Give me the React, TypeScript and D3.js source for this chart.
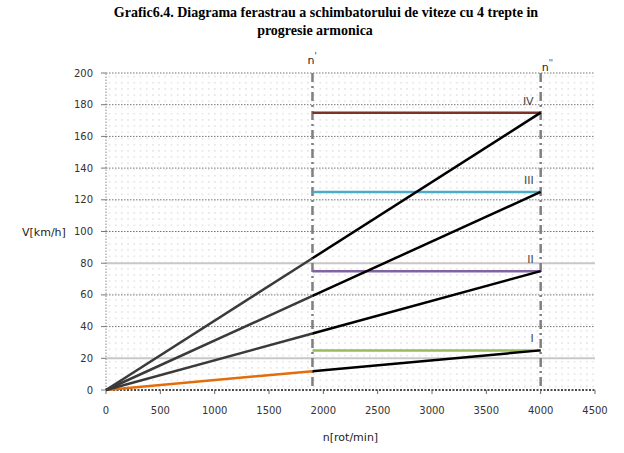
import React from 'react';
import * as d3 from 'd3';

// gear data: speed reached at n'' for each gear
const gears = ['I', 'II', 'III', 'IV'];
const vAtMax = [25, 75, 125, 175];
const nPrime = 1900;
const nSecond = 4000;

const xTicks = [0, 500, 1000, 1500, 2000, 2500, 3000, 3500, 4000, 4500];
const yTicks = [0, 20, 40, 60, 80, 100, 120, 140, 160, 180, 200];

const rampColors = ['#e46c0a', '#3a3a3a', '#3a3a3a', '#3a3a3a'];
const levelColors = ['#9bbb59', '#8064a2', '#4bacc6', '#7a3326'];

const W = 624;
const H = 453;
const margin = { top: 73, right: 29, bottom: 63, left: 106 };

const App = () => {
    const x = d3.scaleLinear().domain([0, 4500]).range([margin.left, W - margin.right]);
    const y = d3.scaleLinear().domain([0, 200]).range([H - margin.bottom, margin.top]);

    const line = d3.line<[number, number]>()
        .x(d => x(d[0]))
        .y(d => y(d[1]));

    const tickFont = 'DejaVu Sans, sans-serif';

    return (
        <svg width={W} height={H} style={{ position: 'absolute', left: 0, top: 0, background: '#fff' }}
            fontFamily={tickFont}>
            <defs>
                <pattern id="dots" width={6.2} height={6.2} patternUnits="userSpaceOnUse"
                    x={margin.left} y={margin.top}>
                    <rect x={3} y={3} width={1} height={1} fill="#b8b8b8" />
                </pattern>
            </defs>

            {/* title */}
            <text x={326} y={17} textAnchor="middle" fontFamily="Liberation Serif, serif"
                fontWeight="bold" fontSize={14} fill="#000">
                Grafic6.4. Diagrama ferastrau a schimbatorului de viteze cu 4 trepte in
            </text>
            <text x={315} y={35} textAnchor="middle" fontFamily="Liberation Serif, serif"
                fontWeight="bold" fontSize={14} fill="#000">
                progresie armonica
            </text>

            {/* plot background pattern */}
            <rect x={x(0)} y={y(200)} width={x(4500) - x(0)} height={y(0) - y(200)} fill="url(#dots)" />

            {/* horizontal gridlines */}
            {yTicks.filter(t => t > 0).map(t => (
                (t === 20 || t === 80)
                    ? <line key={t} x1={x(0)} x2={x(4500)} y1={y(t)} y2={y(t)} stroke="#c8c8c8" strokeWidth={2} />
                    : <line key={t} x1={x(0)} x2={x(4500)} y1={y(t)} y2={y(t)} stroke="#777" strokeWidth={1} strokeDasharray="1.5,1.5" />
            ))}

            {/* axes */}
            <line x1={x(0)} x2={x(0)} y1={y(0)} y2={y(200)} stroke="#888" strokeWidth={1} strokeDasharray="1.5,1.5" />
            {yTicks.map(t => (
                <g key={t}>
                    <line x1={x(0) - 5} x2={x(0)} y1={y(t)} y2={y(t)} stroke="#777" />
                    <text x={x(0) - 13} y={y(t)} dy="0.35em" textAnchor="end" fontSize={10} fill="#333">{t}</text>
                </g>
            ))}
            <line x1={x(0)} x2={x(4500)} y1={y(0)} y2={y(0)} stroke="#111" strokeWidth={1.5} strokeDasharray="2,1.5" />
            {xTicks.map(t => (
                <g key={t}>
                    <line x1={x(t)} x2={x(t)} y1={y(0)} y2={y(0) + 4} stroke="#666" />
                    <text x={x(t)} y={y(0) + 24} textAnchor="middle" fontSize={10} fill="#333">{t}</text>
                </g>
            ))}

            {/* axis titles */}
            <text x={(x(0) + x(4500)) / 2} y={441} textAnchor="middle" fontSize={11} fill="#222">
                n[rot/min]
            </text>
            <text x={22} y={236} fontSize={11} fill="#222">V[km/h]</text>

            {/* n' and n'' markers */}
            {[nPrime, nSecond].map(n => (
                <line key={n} x1={x(n)} x2={x(n)} y1={y(200)} y2={y(0)} stroke="#7f7f7f"
                    strokeWidth={2.5} strokeDasharray="9,4,2,4" />
            ))}
            <text x={x(nPrime) - 5} y={64} fontSize={11} fill="#222">
                n<tspan dy={-5} fontSize={8}>'</tspan>
            </text>
            <text x={x(nSecond) + 1} y={71} fontSize={11} fill="#222">
                n<tspan dy={-5} fontSize={8}>''</tspan>
            </text>

            {/* horizontal speed levels */}
            {gears.map((g, i) => (
                <path key={'lvl' + g} d={line([[nPrime, vAtMax[i]], [nSecond, vAtMax[i]]]) || ''}
                    stroke={levelColors[i]} strokeWidth={2.5} fill="none" />
            ))}

            {/* gear rays */}
            {gears.map((g, i) => {
                const vp = vAtMax[i] * nPrime / nSecond;
                return (
                    <g key={'ray' + g}>
                        <path d={line([[0, 0], [nPrime, vp]]) || ''} stroke={rampColors[i]} strokeWidth={2.5} fill="none" />
                        <path d={line([[nPrime, vp], [nSecond, vAtMax[i]]]) || ''} stroke="#000" strokeWidth={2.5} fill="none" />
                    </g>
                );
            })}

            {/* gear labels */}
            {gears.map((g, i) => (
                <text key={'lab' + g} x={x(nSecond) - 7} y={y(vAtMax[i]) - 8} textAnchor="end"
                    fontSize={11} fill="#444">{g}</text>
            ))}
        </svg>
    );
};

export default App;
